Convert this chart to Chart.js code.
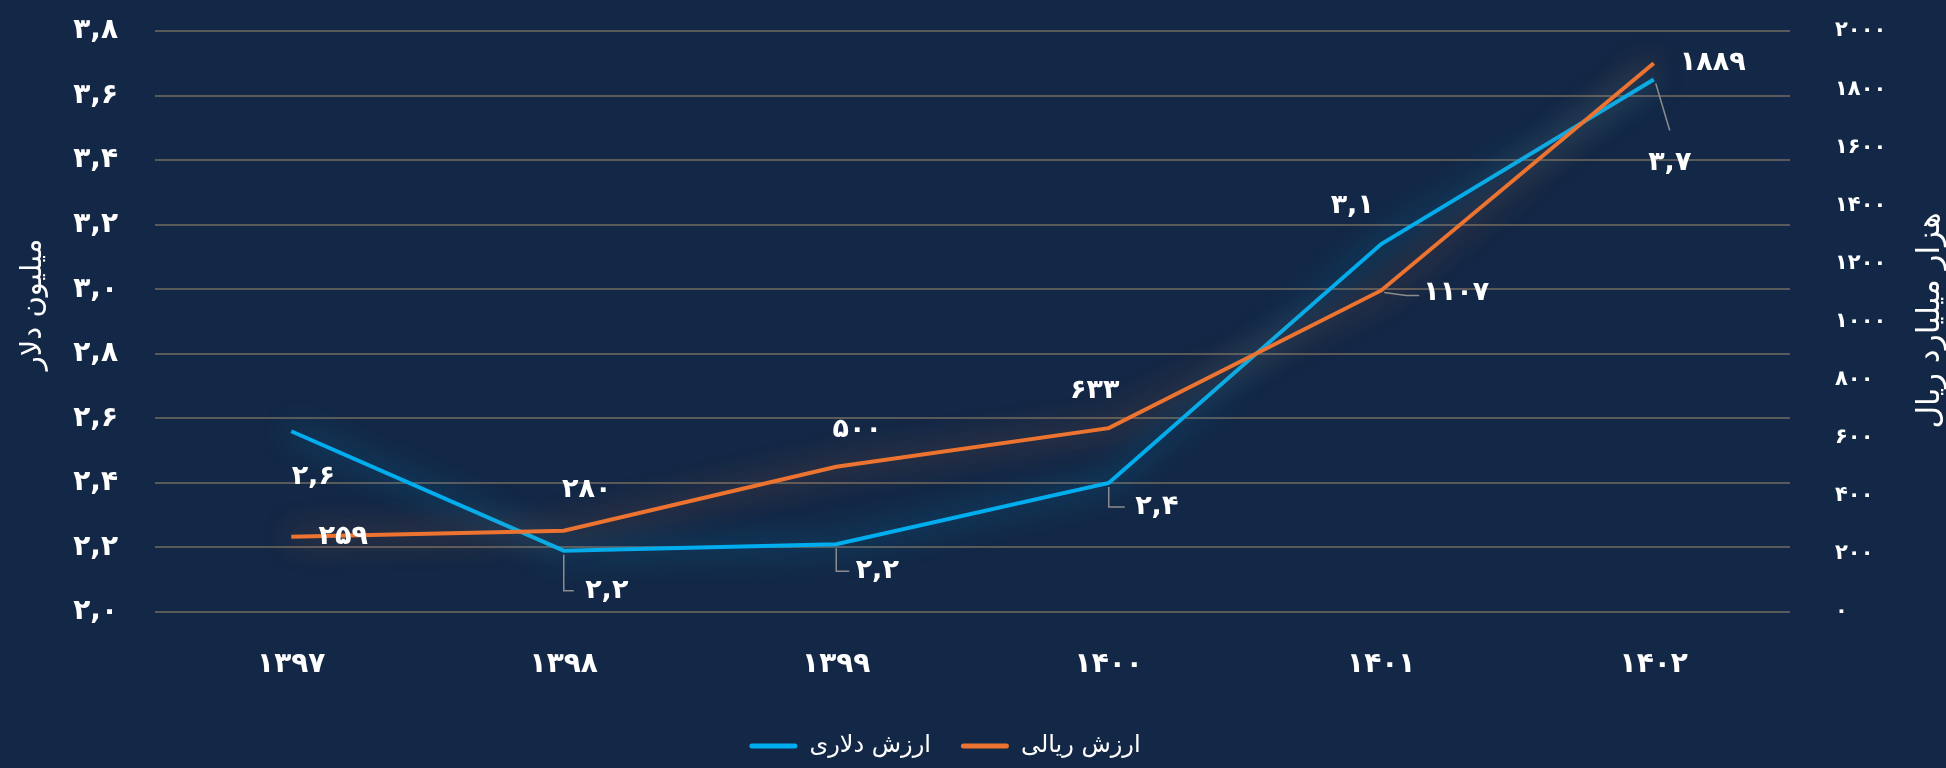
<!DOCTYPE html>
<html lang="fa">
<head>
<meta charset="utf-8">
<title>ارزش دلاری و ریالی</title>
<script src="https://cdn.jsdelivr.net/npm/chart.js@4.4.1/dist/chart.umd.min.js"></script>
<style>
  html, body { margin: 0; padding: 0; background: #132846; }
  #wrap { width: 1946px; height: 768px; position: relative; }
</style>
</head>
<body>
<div id="wrap"><canvas id="chart"></canvas></div>
<script>
// ---- data ----
const years = ['۱۳۹۷', '۱۳۹۸', '۱۳۹۹', '۱۴۰۰', '۱۴۰۱', '۱۴۰۲'];
const dollarValues = [2.56, 2.19, 2.21, 2.40, 3.14, 3.65];   // میلیون دلار
const rialValues = [259, 280, 500, 633, 1107, 1889];        // هزار میلیارد ریال
const dollarTicks = [2.0, 2.2, 2.4, 2.6, 2.8, 3.0, 3.2, 3.4, 3.6, 3.8];
const rialTicks = [0, 200, 400, 600, 800, 1000, 1200, 1400, 1600, 1800, 2000];

const BG = '#132846';
const BLUE = '#00aeef';
const ORANGE = '#ec7430';
const FONT = "'DejaVu Sans', sans-serif";

function fa(s) {
  return String(s).replace(/[0-9]/g, d => '۰۱۲۳۴۵۶۷۸۹'[d]);
}
function faDec(v) {
  return fa((Math.round(v * 10) / 10).toFixed(1).replace('.', ','));
}

// label offsets from the point, and optional leader polylines (relative to the point)
const labelLayout = {
  dollar: {
    offsets: [[22, 46], [43, 40], [41, 27], [48, 24], [-29, -38], [16, 84]],
    leaders: [null, [[0, 4], [0, 40], [10, 40]], [[0, 4], [0, 27], [13, 27]],
              [[0, 4], [0, 24], [16, 24]], null, [[2, 4], [16, 51]]]
  },
  rial: {
    offsets: [[52, 0], [23, -41], [21, -37], [-14, -37], [75, 3], [59, 0]],
    leaders: [null, null, null, null, [[3, 2], [25, 5], [38, 5]], null]
  }
};

const bgPlugin = {
  id: 'bg',
  beforeDraw(chart) {
    const ctx = chart.ctx;
    ctx.save();
    ctx.fillStyle = BG;
    ctx.fillRect(0, 0, chart.width, chart.height);
    ctx.restore();
  }
};

const glowPlugin = {
  id: 'glow',
  beforeDatasetDraw(chart, args) {
    const ds = chart.data.datasets[args.index];
    const ctx = chart.ctx;
    ctx.save();
    ctx.shadowColor = ds.glowColor;
    ctx.shadowBlur = 30;
  },
  afterDatasetDraw(chart) {
    chart.ctx.restore();
  }
};

const labelPlugin = {
  id: 'pointLabels',
  afterDatasetsDraw(chart) {
    const ctx = chart.ctx;
    chart.data.datasets.forEach((ds, di) => {
      const layout = labelLayout[ds.key];
      const meta = chart.getDatasetMeta(di);
      meta.data.forEach((pt, i) => {
        const lead = layout.leaders[i];
        if (lead) {
          ctx.save();
          ctx.strokeStyle = '#8c8c8c';
          ctx.lineWidth = 1.5;
          ctx.beginPath();
          lead.forEach(([dx, dy], k) => {
            if (k === 0) ctx.moveTo(pt.x + dx, pt.y + dy);
            else ctx.lineTo(pt.x + dx, pt.y + dy);
          });
          ctx.stroke();
          ctx.restore();
        }
        const [ox, oy] = layout.offsets[i];
        ctx.save();
        ctx.fillStyle = '#ffffff';
        ctx.font = 'bold 27px ' + FONT;
        ctx.textAlign = 'center';
        ctx.textBaseline = 'middle';
        ctx.fillText(ds.fmt(ds.data[i]), pt.x + ox, pt.y + oy);
        ctx.restore();
      });
    });
  }
};

// both axis titles read bottom-to-top, as in the original
const axisTitlePlugin = {
  id: 'axisTitles',
  afterDraw(chart) {
    const ctx = chart.ctx;
    const area = chart.chartArea;
    const mid = (area.top + area.bottom) / 2;
    ctx.save();
    ctx.fillStyle = '#ffffff';
    ctx.font = '29px ' + FONT;
    ctx.textAlign = 'center';
    ctx.textBaseline = 'middle';
    ctx.translate(33, mid - 17);
    ctx.rotate(-Math.PI / 2);
    ctx.fillText('میلیون دلار', 0, 0);
    ctx.restore();

    ctx.save();
    ctx.fillStyle = '#ffffff';
    ctx.font = '31px ' + FONT;
    ctx.textAlign = 'center';
    ctx.textBaseline = 'middle';
    ctx.translate(1931, mid - 1);
    ctx.rotate(-Math.PI / 2);
    ctx.fillText('هزار میلیارد ریال', 0, 0);
    ctx.restore();
  }
};

// tick padding would otherwise be added above/below the plot area
function noEdgePadding(scale) {
  scale.paddingTop = 0;
  scale.paddingBottom = 0;
}

new Chart(document.getElementById('chart'), {
  type: 'line',
  data: {
    labels: years,
    datasets: [
      {
        key: 'dollar',
        label: 'ارزش دلاری',
        data: dollarValues,
        yAxisID: 'y',
        borderColor: BLUE,
        backgroundColor: BLUE,
        glowColor: 'rgba(0, 174, 239, 0.7)',
        borderWidth: 4,
        pointRadius: 0,
        tension: 0,
        order: 1,
        fmt: faDec
      },
      {
        key: 'rial',
        label: 'ارزش ریالی',
        data: rialValues,
        yAxisID: 'y2',
        borderColor: ORANGE,
        backgroundColor: ORANGE,
        glowColor: 'rgba(236, 116, 48, 0.7)',
        borderWidth: 4,
        pointRadius: 0,
        tension: 0,
        order: 0,
        fmt: v => fa(v)
      }
    ]
  },
  options: {
    responsive: true,
    maintainAspectRatio: false,
    animation: false,
    layout: { padding: { top: 31, bottom: 0, left: 0, right: 56 } },
    scales: {
      x: {
        offset: true,
        grid: { display: false },
        border: { display: false },
        ticks: {
          color: '#ffffff',
          font: { family: FONT, size: 28, weight: 'bold' },
          padding: 28
        },
        afterFit(scale) { scale.height = 92; }
      },
      y: {
        position: 'left',
        min: 2.0,
        max: 3.8,
        afterBuildTicks(scale) { scale.ticks = dollarTicks.map(v => ({ value: v })); },
        grid: { color: '#5a5a5a', lineWidth: 2, drawTicks: false },
        border: { display: false },
        ticks: {
          color: '#ffffff',
          font: { family: FONT, size: 28, weight: 'bold' },
          padding: 37,
          callback: v => fa(v.toFixed(1).replace('.', ','))
        },
        afterFit(scale) { scale.width = 155; noEdgePadding(scale); }
      },
      y2: {
        position: 'right',
        min: 0,
        max: 2000,
        afterBuildTicks(scale) { scale.ticks = rialTicks.map(v => ({ value: v })); },
        grid: { display: false },
        border: { display: false },
        ticks: {
          color: '#ffffff',
          font: { family: FONT, size: 21, weight: 'bold' },
          padding: 37,
          callback: v => fa(v)
        },
        afterFit(scale) { scale.width = 100; noEdgePadding(scale); }
      }
    },
    plugins: {
      legend: {
        position: 'bottom',
        labels: {
          color: '#ffffff',
          font: { family: FONT, size: 24 },
          boxWidth: 48,
          boxHeight: 5,
          useBorderRadius: true,
          borderRadius: 2.5,
          padding: 30,
          sort: (a, b) => a.datasetIndex - b.datasetIndex,
          generateLabels: chart =>
            Chart.defaults.plugins.legend.labels.generateLabels(chart)
              .map(l => Object.assign(l, { lineWidth: 0 }))
        }
      },
      tooltip: { enabled: false }
    }
  },
  plugins: [bgPlugin, glowPlugin, labelPlugin, axisTitlePlugin]
});
</script>
</body>
</html>
